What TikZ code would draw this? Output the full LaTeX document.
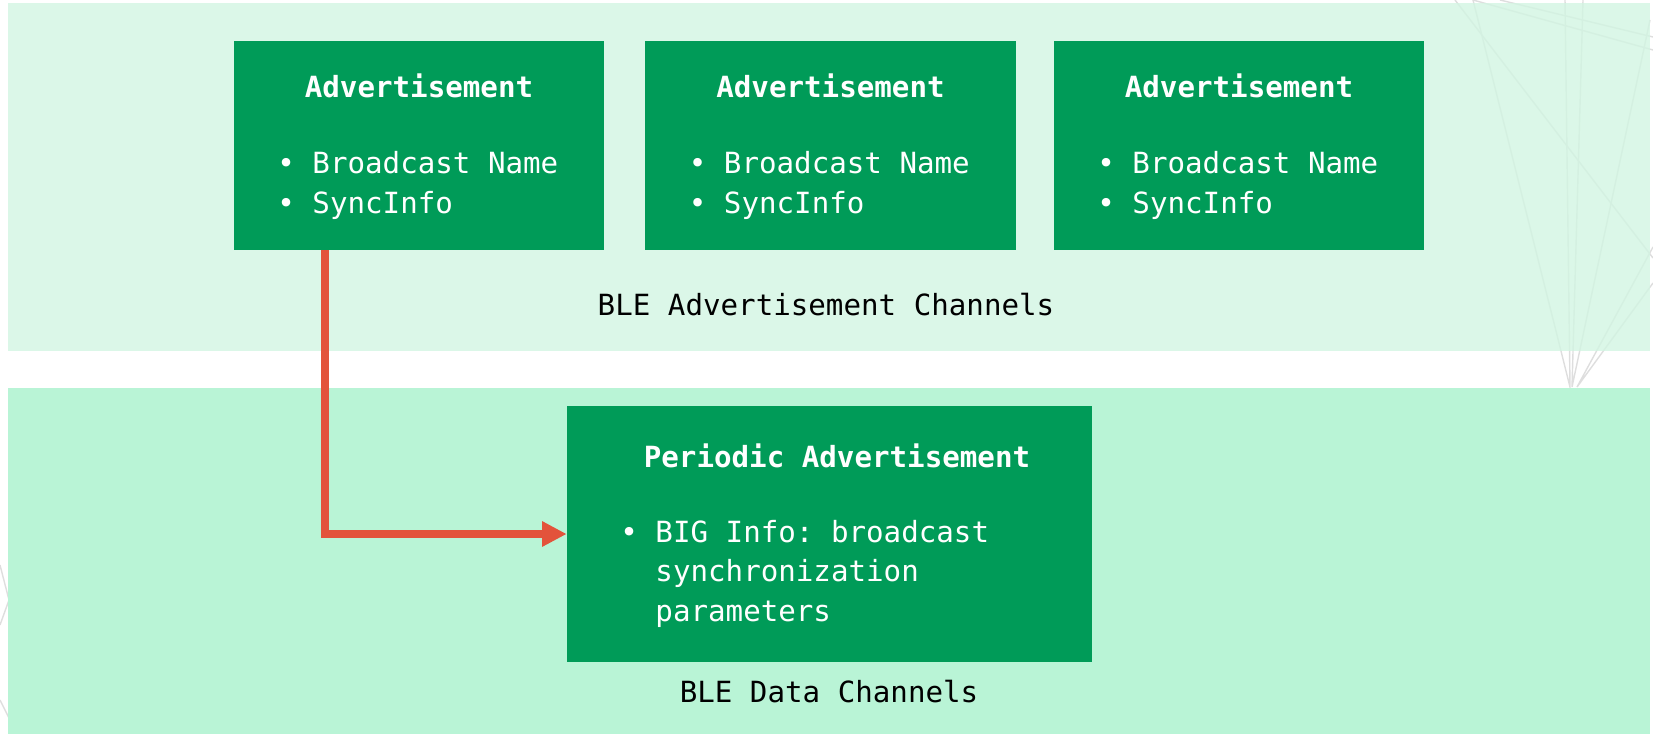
\documentclass[tikz,border=0pt]{standalone}
\usepackage{fontspec}
\setmonofont{DejaVu Sans Mono}
\usetikzlibrary{arrows.meta}

\definecolor{bandtop}{RGB}{210,245,226}
\definecolor{bandbot}{RGB}{185,244,214}
\definecolor{boxgreen}{RGB}{0,155,88}
\definecolor{linkred}{RGB}{227,83,59}
\definecolor{decoline}{RGB}{222,222,222}

\begin{document}
\begin{tikzpicture}[x=0.02cm, y=-0.02cm, >={Triangle[length=14pt, width=13.6pt]},
    every node/.style={font=\ttfamily\fontsize{16.6pt}{22.4pt}\selectfont, inner sep=0pt},
    advbox/.style={fill=boxgreen, minimum width=7.42cm, minimum height=4.18cm},
    boxtitle/.style={text=white, anchor=base, font=\ttfamily\bfseries\fontsize{16.6pt}{22.4pt}\selectfont},
    boxitems/.style={text=white, align=left, anchor=base west},
    chanlabel/.style={anchor=base}]
	\useasboundingbox (0,0) rectangle (1653,734);
	
	% 背景装饰线 (底层)
	\begin{scope}[decoline, line width=0.8pt]
		\draw (1455,0) -- (1653,258);
		\draw (1473,0) -- (1570,387) -- (1565,0);
		\draw (1583,0) -- (1572,387) -- (1650,20);
		\draw (1473,0) -- (1653,50);
		\draw (1500,0) -- (1653,37);
		\draw (1653,247) -- (1577,387) -- (1653,283);
		\draw (0,565) -- (9,600) -- (0,625);
		\draw (0,700) -- (9,718);
	\end{scope}
	
	% 两个信道区域
	\fill[bandtop, fill opacity=0.8] (8,3) rectangle (1650,351);
	\fill[bandbot] (8,388) rectangle (1650,734);
	
	% 广播信道：三个 Advertisement (多行文字以末行基线定位)
	\foreach \n/\cx in {1/419, 2/830.5, 3/1239} {
		\node[advbox] (adv\n) at (\cx,145.5) {};
		\node[boxtitle] (adv\n-title) at (\cx,97) {Advertisement};
		\node[boxitems] (adv\n-items) at (\cx-142,213) {• Broadcast Name\\• SyncInfo};
	}
	\node[chanlabel] (advlabel) at (826,315) {BLE Advertisement Channels};
	
	% 数据信道：Periodic Advertisement
	\node[advbox, minimum width=10.5cm, minimum height=5.12cm] (periodic) at (829.5,534) {};
	\node[boxtitle] (periodic-title) at (837,467) {Periodic Advertisement};
	\node[boxitems] (periodic-items) at (620,621)
		{• BIG Info: broadcast\\\hphantom{• }synchronization\\\hphantom{• }parameters};
	\node[chanlabel] (datalabel) at (829,702) {BLE Data Channels};
	
	% SyncInfo 指向 Periodic Advertisement
	\coordinate (sync) at ([xshift=1.84cm]adv1.south west);
	\draw[->, linkred, line width=4.5pt, line join=miter] (sync) |- (periodic.west);
\end{tikzpicture}
\end{document}
